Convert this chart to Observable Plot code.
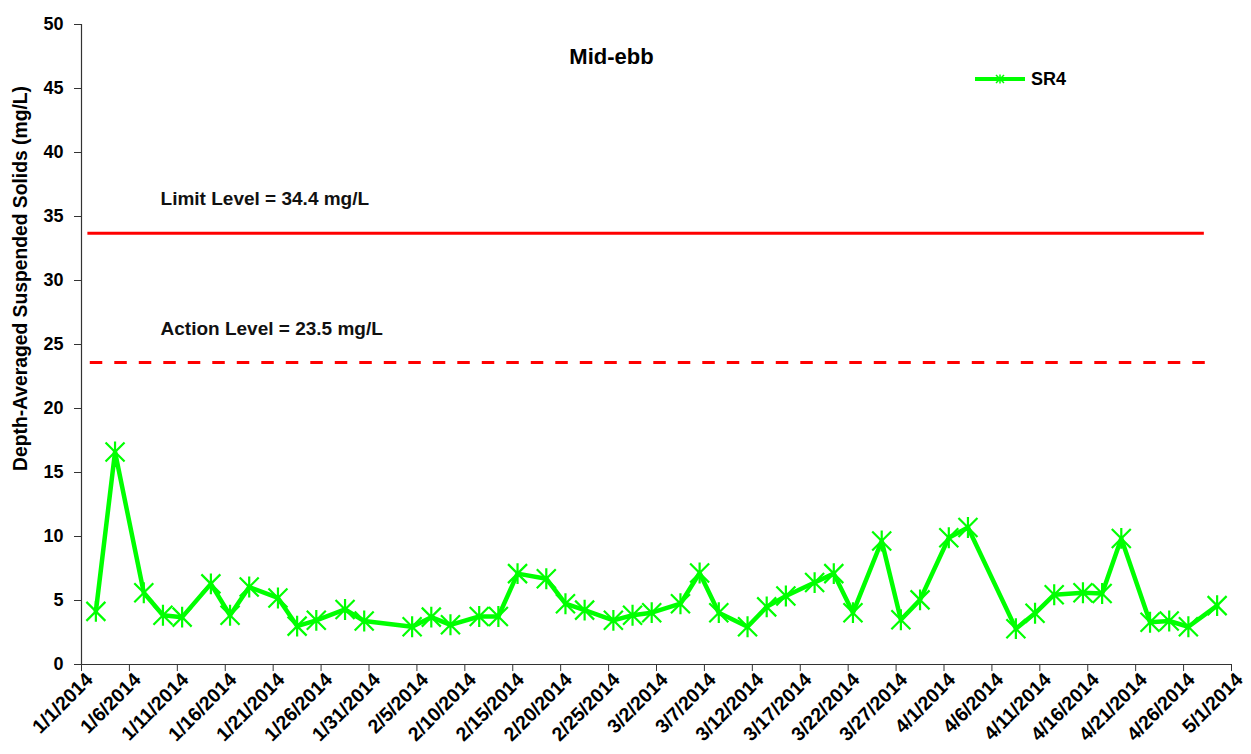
<!DOCTYPE html>
<html>
<head>
<meta charset="utf-8">
<script src="https://cdn.jsdelivr.net/npm/d3@7"></script>
<script src="https://cdn.jsdelivr.net/npm/@observablehq/plot@0.6"></script>
<style>
  html, body { margin: 0; padding: 0; background: #fff; }
  #chart { position: relative; width: 1251px; height: 754px; }
</style>
</head>
<body>
<div id="chart"></div>
<script>
// ---- data ----
const chartTitle = "Mid-ebb";
const yAxisLabel = "Depth-Averaged Suspended Solids (mg/L)";
const seriesName = "SR4";

const sampleDates = [
  "2014-01-02","2014-01-04","2014-01-07","2014-01-09","2014-01-11","2014-01-14","2014-01-16",
  "2014-01-18","2014-01-21","2014-01-23","2014-01-25","2014-01-28","2014-01-30","2014-02-04",
  "2014-02-06","2014-02-08","2014-02-11","2014-02-13","2014-02-15","2014-02-18","2014-02-20",
  "2014-02-22","2014-02-25","2014-02-27","2014-03-01","2014-03-04","2014-03-06","2014-03-08",
  "2014-03-11","2014-03-13","2014-03-15","2014-03-18","2014-03-20","2014-03-22","2014-03-25",
  "2014-03-27","2014-03-29","2014-04-01","2014-04-03","2014-04-08","2014-04-10","2014-04-12",
  "2014-04-15","2014-04-17","2014-04-19","2014-04-22","2014-04-24","2014-04-26","2014-04-29"
];
const sr4Values = [
  4.15, 16.6, 5.6, 3.85, 3.7, 6.3, 3.85,
  6.05, 5.2, 3.0, 3.45, 4.3, 3.4, 2.95,
  3.7, 3.1, 3.75, 3.75, 7.1, 6.7, 4.75,
  4.25, 3.45, 3.85, 4.05, 4.75, 7.15, 4.05,
  2.95, 4.5, 5.35, 6.4, 7.1, 4.05, 9.65,
  3.5, 5.05, 9.9, 10.7, 2.8, 4.0, 5.45,
  5.6, 5.55, 9.85, 3.3, 3.4, 2.95, 4.6
];

const levelNames  = ["Limit Level = 34.4 mg/L", "Action Level = 23.5 mg/L"];
const levelValues = [33.7, 23.6];            // drawn positions
const levelStarts = ["2014-01-01T16:00Z", "2014-01-01T22:00Z"];
const levelEnds   = ["2014-04-28T04:00Z", "2014-04-29T00:00Z"];
const levelDashed = [false, true];
const levelLabelDate = "2014-01-09T06:00Z";

const xDomain = ["2014-01-01", "2014-05-01"];
const xTickDates = [
  "2014-01-01","2014-01-06","2014-01-11","2014-01-16","2014-01-21","2014-01-26","2014-01-31",
  "2014-02-05","2014-02-10","2014-02-15","2014-02-20","2014-02-25","2014-03-02","2014-03-07",
  "2014-03-12","2014-03-17","2014-03-22","2014-03-27","2014-04-01","2014-04-06","2014-04-11",
  "2014-04-16","2014-04-21","2014-04-26","2014-05-01"
];
const yTicks = [0, 5, 10, 15, 20, 25, 30, 35, 40, 45, 50];

// ---- build ----
const HALF_DAY = 12 * 3600 * 1000; // points sit mid-day (between tick marks)
const parse = s => new Date(s.length === 10 ? s + "T00:00Z" : s);
const series = sampleDates.map((d, i) => ({date: new Date(parse(d).getTime() + HALF_DAY), value: sr4Values[i]}));
const levels = levelNames.map((n, i) => ({
  name: n, value: levelValues[i], x1: parse(levelStarts[i]), x2: parse(levelEnds[i]), dashed: levelDashed[i]
}));
const fmt = d3.utcFormat("%-m/%-d/%Y");

const starSymbol = {
  draw(ctx, size) {
    const r = Math.sqrt(size / Math.PI);
    ctx.moveTo(-r, -r); ctx.lineTo(r, r);
    ctx.moveTo(-r, r); ctx.lineTo(r, -r);
    ctx.moveTo(0, -r * 1.1); ctx.lineTo(0, r * 1.1);
  }
};

const GREEN = "#00ff00", RED = "#ff0000", AXIS = "#333";

const plot = Plot.plot({
  width: 1251,
  height: 754,
  marginLeft: 81,
  marginRight: 20,
  marginTop: 24,
  marginBottom: 90,
  style: {fontFamily: "'Liberation Sans', Arial, sans-serif", fontSize: "18px", fontWeight: "bold", color: "#000", background: "#fff"},
  x: {type: "utc", domain: xDomain.map(parse)},
  y: {domain: [0, 50]},
  marks: [
    Plot.axisY({ticks: yTicks, tickSize: 7, tickPadding: 11, label: null, stroke: AXIS}),
    Plot.axisX({ticks: xTickDates.map(parse), tickFormat: fmt, tickRotate: -45, tickSize: 7, tickPadding: 4, label: null, stroke: AXIS, text: null}),
    Plot.axisX({ticks: xTickDates.map(parse), tickFormat: fmt, tickRotate: -45, tickSize: 0, tickPadding: 12, dx: 8, label: null, fontSize: 19.5}),
    Plot.ruleX([parse(xDomain[0])], {stroke: AXIS, strokeWidth: 1.2}),
    Plot.ruleY([0], {stroke: AXIS, strokeWidth: 1.2}),
    Plot.ruleY(levels.filter(d => !d.dashed), {y: "value", x1: "x1", x2: "x2", stroke: RED, strokeWidth: 3}),
    Plot.ruleY(levels.filter(d => d.dashed), {y: "value", x1: "x1", x2: "x2", stroke: RED, strokeWidth: 3, strokeDasharray: "12.5,12"}),
    Plot.text(levels, {x: () => parse(levelLabelDate), y: "value", text: "name", dy: -34, textAnchor: "start", fontSize: 19, fill: "#111"}),
    Plot.line(series, {x: "date", y: "value", stroke: GREEN, strokeWidth: 4.5, strokeLinejoin: "round"}),
    Plot.dot(series, {x: "date", y: "value", symbol: starSymbol, r: 9.5, stroke: GREEN, fill: "none", strokeWidth: 2.2}),
    Plot.text([chartTitle], {frameAnchor: "top", dx: -45, dy: 32, lineAnchor: "middle", fontSize: 22}),
    Plot.text([yAxisLabel], {frameAnchor: "left", textAnchor: "middle", rotate: -90, dx: -61, dy: -66, lineAnchor: "middle", fontSize: 19.3})
  ]
});

// legend
const svg = d3.select(plot);
const lg = svg.append("g").attr("transform", "translate(975,79)");
lg.append("line").attr("x1", 0).attr("x2", 50).attr("y1", 0).attr("y2", 0).attr("stroke", GREEN).attr("stroke-width", 4);
lg.append("path").attr("d", "M-4,-4L4,4M-4,4L4,-4M0,-4.5L0,4.5").attr("transform", "translate(25,0)").attr("stroke", GREEN).attr("stroke-width", 1.5).attr("fill", "none");
lg.append("text").attr("x", 56).attr("y", 0).attr("dy", "0.35em").attr("text-anchor", "start").style("font-size", "18px").text(seriesName);

document.getElementById("chart").appendChild(plot);
</script>
</body>
</html>
